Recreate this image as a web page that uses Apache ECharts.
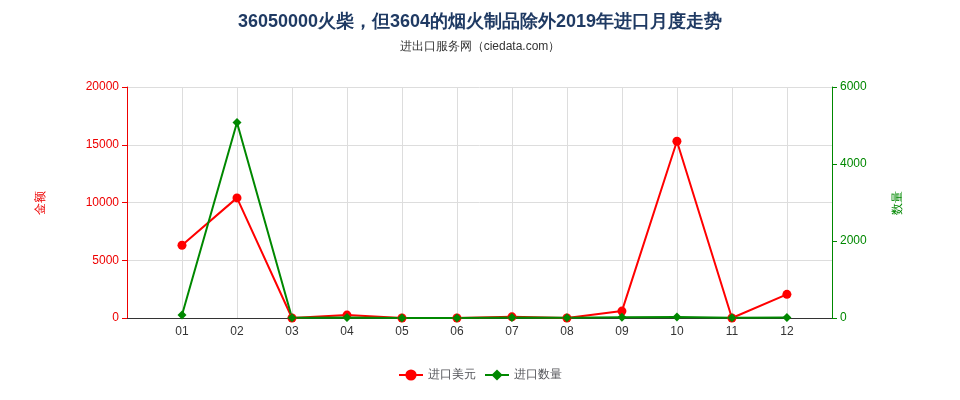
<!DOCTYPE html>
<html><head><meta charset="utf-8">
<script src="https://cdn.jsdelivr.net/npm/echarts@6/dist/echarts.min.js"></script>
</head><body style="margin:0">
<div id="main" style="width:960px;height:400px"></div>
<script>
var months = ['01','02','03','04','05','06','07','08','09','10','11','12'];
var amount = [6300, 10400, 0, 250, 0, 0, 100, 0, 600, 15300, 0, 2050];
var quantity = [80, 5080, 5, 10, 2, 3, 15, 5, 20, 25, 5, 10];

var chart = echarts.init(document.getElementById('main'));
function pairs(arr) { return arr.map(function (v, i) { return [i + 1, v]; }); }
function plain(v) { return String(v); }
chart.setOption({
  title: {
    text: '36050000火柴，但3604的烟火制品除外2019年进口月度走势',
    subtext: '进出口服务网（ciedata.com）',
    left: 'center', top: 8,
    textStyle: { fontSize: 18, fontWeight: 'bold', color: '#1f3a63' },
    subtextStyle: { fontSize: 12, color: '#333' }
  },
  legend: {
    bottom: 14, left: 'center', itemWidth: 24,
    data: ['进口美元', '进口数量']
  },
  grid: { left: 127, right: 128, top: 87, bottom: 82 },
  xAxis: {
    type: 'value', min: 0, max: 12.82, interval: 1,
    axisLabel: { formatter: function (v) { return v >= 1 && v <= 12 ? months[v - 1] : ''; }, color: '#333' },
    axisTick: { show: false },
    axisLine: { lineStyle: { color: '#333' } },
    splitLine: { show: true, lineStyle: { color: '#ddd' } }
  },
  yAxis: [{
    type: 'value', name: '金额', nameLocation: 'middle', nameGap: 80, min: 0, max: 20000, interval: 5000,
    nameTextStyle: { color: '#e00' },
    axisLine: { show: true, lineStyle: { color: '#e00' } },
    axisTick: { show: true },
    axisLabel: { color: '#e00', formatter: plain },
    splitLine: { lineStyle: { color: '#ddd' } }
  }, {
    type: 'value', name: '数量', nameLocation: 'middle', nameGap: 60, min: 0, max: 6000, interval: 2000,
    nameTextStyle: { color: '#080' },
    axisLine: { show: true, lineStyle: { color: '#080' } },
    axisTick: { show: true },
    axisLabel: { color: '#080', formatter: plain },
    splitLine: { show: false }
  }],
  series: [{
    name: '进口美元', type: 'line', yAxisIndex: 0, data: pairs(amount),
    symbol: 'circle', symbolSize: 9, color: '#f00', lineStyle: { width: 2 }
  }, {
    name: '进口数量', type: 'line', yAxisIndex: 1, data: pairs(quantity),
    symbol: 'diamond', symbolSize: 9, color: '#080', lineStyle: { width: 2 }
  }]
});
</script>
</body></html>
